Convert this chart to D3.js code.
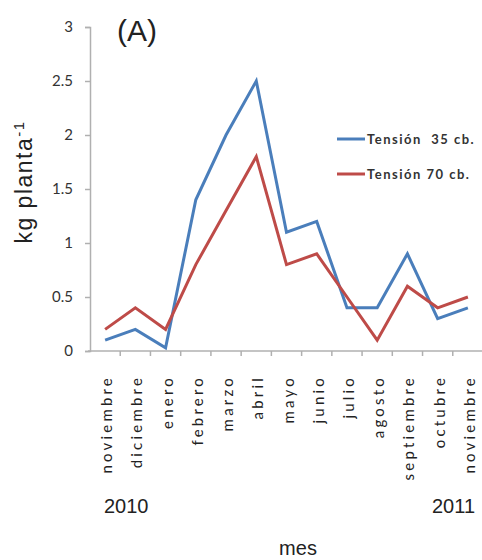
<!DOCTYPE html>
<html><head><meta charset="utf-8">
<script src="https://cdn.jsdelivr.net/npm/d3@7"></script>
<style>body{margin:0;background:#fff}svg{display:block}</style>
</head><body>
<script>
const months = ["noviembre","diciembre","enero","febrero","marzo","abril","mayo","junio","julio","agosto","septiembre","octubre","noviembre"];
const keys = months.map((m,i)=>i);
const tension35 = [0.1,0.2,0.03,1.4,2.0,2.5,1.1,1.2,0.4,0.4,0.9,0.3,0.4];
const tension70 = [0.2,0.4,0.2,0.8,1.3,1.8,0.8,0.9,0.5,0.1,0.6,0.4,0.5];
const yTicks = [0,0.5,1,1.5,2,2.5,3];
const seriesNames = ["Tensión  35 cb.","Tensión 70 cb."];
const colors = ["#4a7ebb","#be4b48"];

const W=482,H=560;
const svg=d3.select("body").append("svg").attr("width",W).attr("height",H);
const x=d3.scaleBand().domain(keys).range([90,483]);
const y=d3.scaleLinear().domain([0,3]).range([351,27]);
const axCol="#b0b0b0", txt="#333";

// y axis
const gy=svg.append("g").attr("transform","translate(90,0)")
  .call(d3.axisLeft(y).tickValues(yTicks).tickSize(5).tickPadding(12).tickFormat(d=>String(d)));
gy.select(".domain").attr("stroke",axCol).attr("stroke-width",1.5);
gy.selectAll(".tick line").attr("stroke",axCol).attr("stroke-width",1.5);
gy.selectAll("text").attr("font-family","Lato, sans-serif").attr("font-size",15).attr("fill",txt);

// x axis
const gx=svg.append("g").attr("transform","translate(0,351)");
gx.append("line").attr("x1",88).attr("x2",483).attr("stroke",axCol).attr("stroke-width",1.5);
gx.selectAll("line.t").data(keys.slice(1)).enter().append("line").attr("class","t")
  .attr("x1",d=>x(d)).attr("x2",d=>x(d)).attr("y1",0).attr("y2",5).attr("stroke",axCol).attr("stroke-width",1.5);
gx.selectAll("text").data(keys).enter().append("text")
  .attr("transform",d=>`translate(${x(d)+x.bandwidth()/2+7},24) rotate(-90)`)
  .attr("text-anchor","end").attr("font-family","Lato, sans-serif").attr("font-size",15)
  .attr("letter-spacing",3.2).attr("fill","#222").text(d=>months[d]);

// lines
const line=d3.line().x((d,i)=>x(i)+x.bandwidth()/2).y(d=>y(d));
[tension35,tension70].forEach((s,k)=>{
  svg.append("path").datum(s).attr("d",line).attr("fill","none")
    .attr("stroke",colors[k]).attr("stroke-width",3).attr("stroke-linejoin","miter");
});

// legend
seriesNames.forEach((n,k)=>{
  const ly=139+k*35;
  svg.append("line").attr("x1",337).attr("x2",365).attr("y1",ly).attr("y2",ly).attr("stroke",colors[k]).attr("stroke-width",3);
  svg.append("text").attr("x",367).attr("y",ly+5).attr("font-family","Lato, sans-serif").attr("font-size",13)
    .attr("font-weight","bold").attr("letter-spacing",1.5).attr("fill","#333").attr("xml:space","preserve").text(n);
});

// titles
const sans="Liberation Sans, Arial, sans-serif";
svg.append("text").attr("x",117).attr("y",41).attr("font-family",sans).attr("font-size",30).attr("fill","#222").text("(A)");
const yt=svg.append("text").attr("transform","translate(32,182) rotate(-90)").attr("text-anchor","middle")
  .attr("font-family",sans).attr("font-size",23).attr("letter-spacing",1.5).attr("fill","#222");
yt.append("tspan").text("kg planta");
yt.append("tspan").attr("font-size",15).attr("dy",-8).text("-1");
svg.append("text").attr("x",104).attr("y",513).attr("font-family",sans).attr("font-size",20).attr("fill","#222").text("2010");
svg.append("text").attr("x",432).attr("y",513).attr("font-family",sans).attr("font-size",20).attr("fill","#222").text("2011");
svg.append("text").attr("x",298).attr("y",555).attr("text-anchor","middle").attr("font-family",sans).attr("font-size",20).attr("fill","#222").text("mes");
</script>
</body></html>
